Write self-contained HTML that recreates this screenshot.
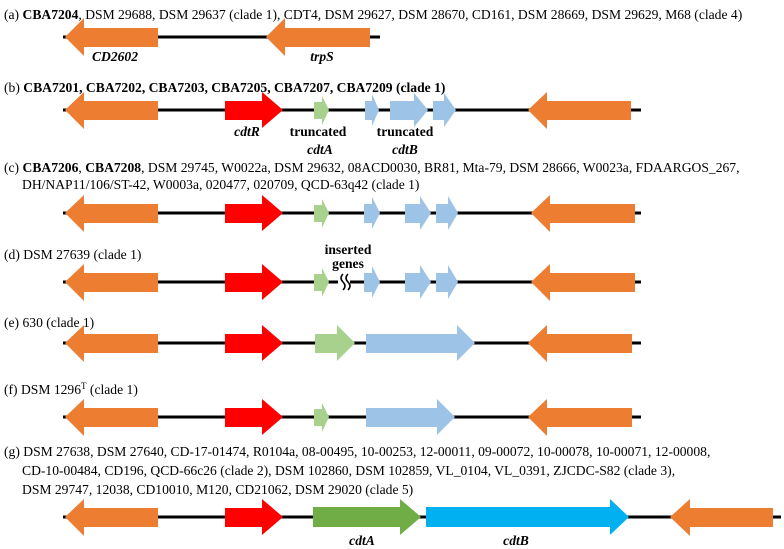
<!DOCTYPE html>
<html><head><meta charset="utf-8"><style>
html,body{margin:0;padding:0;background:#fff;}
svg{display:block;font-family:"Liberation Serif",serif;}
text{font-size:13.6px;fill:#000;}
.b{font-weight:bold;}
.i{font-weight:bold;font-style:italic;}
</style></head><body>
<svg width="784" height="549" viewBox="0 0 784 549">
<text x="4" y="19">(a) <tspan class="b">CBA7204</tspan>, DSM 29688, DSM 29637 (clade 1), CDT4, DSM 29627, DSM 28670, CD161, DSM 28669, DSM 29629, M68 (clade 4)</text>
<text x="4" y="92">(b) <tspan class="b">CBA7201, CBA7202, CBA7203, CBA7205, CBA7207, CBA7209 (clade 1)</tspan></text>
<text x="4" y="172">(c) <tspan class="b">CBA7206</tspan>, <tspan class="b">CBA7208</tspan>, DSM 29745, W0022a, DSM 29632, 08ACD0030, BR81, Mta-79, DSM 28666, W0023a, FDAARGOS_267,</text>
<text x="22" y="189">DH/NAP11/106/ST-42, W0003a, 020477, 020709, QCD-63q42 (clade 1)</text>
<text x="4" y="259">(d) DSM 27639 (clade 1)</text>
<text x="4" y="327">(e) 630 (clade 1)</text>
<text x="4" y="394">(f) DSM 1296<tspan font-size="9" dy="-5">T</tspan><tspan dy="5"> (clade 1)</tspan></text>
<text x="4" y="456">(g) DSM 27638, DSM 27640, CD-17-01474, R0104a, 08-00495, 10-00253, 12-00011, 09-00072, 10-00078, 10-00071, 12-00008,</text>
<text x="22" y="475">CD-10-00484, CD196, QCD-66c26 (clade 2), DSM 102860, DSM 102859, VL_0104, VL_0391, ZJCDC-S82 (clade 3),</text>
<text x="22" y="494">DSM 29747, 12038, CD10010, M120, CD21062, DSM 29020 (clade 5)</text>

<g>
<line x1="63" y1="37" x2="380" y2="37" stroke="#000" stroke-width="3"/>
<polygon points="65,37 84,18 84,28 158,28 158,47 84,47 84,56" fill="#ED7D31"/>
<polygon points="266,37 285,18 285,28 370,28 370,47 285,47 285,56" fill="#ED7D31"/>
<text class="i" x="115" y="61" text-anchor="middle">CD2602</text>
<text class="i" x="322" y="61" text-anchor="middle">trpS</text>
</g>

<g>
<line x1="63" y1="110" x2="641" y2="110" stroke="#000" stroke-width="3"/>
<polygon points="65,110 84,92 84,101 158,101 158,120 84,120 84,129" fill="#ED7D31"/>
<polygon points="225,101 262,101 262,92 283,110 262,128 262,120 225,120" fill="#FF0000"/>
<polygon points="314,102 322,102 322,96 329,110 322,125 322,119 314,119" fill="#A9D18E"/>
<polygon points="365,101 372,101 372,94 379,110 372,126 372,120 365,120" fill="#9DC3E6"/>
<polygon points="390,101 414,101 414,93 428,110 414,127 414,120 390,120" fill="#9DC3E6"/>
<polygon points="433,101 444,101 444,93 456,110 444,127 444,120 433,120" fill="#9DC3E6"/>
<polygon points="528,110 547,92 547,101 631,101 631,120 547,120 547,129" fill="#ED7D31"/>
<text class="i" x="247" y="136" text-anchor="middle">cdtR</text>
<text class="b" x="318" y="136" text-anchor="middle">truncated</text>
<text class="i" x="320" y="154" text-anchor="middle">cdtA</text>
<text class="b" x="405" y="136" text-anchor="middle">truncated</text>
<text class="i" x="405" y="154" text-anchor="middle">cdtB</text>
</g>

<g>
<line x1="63" y1="213" x2="641" y2="213" stroke="#000" stroke-width="3"/>
<polygon points="65,213 84,195 84,204 158,204 158,223 84,223 84,232" fill="#ED7D31"/>
<polygon points="225,204 262,204 262,195 283,213 262,231 262,223 225,223" fill="#FF0000"/>
<polygon points="314,205 322,205 322,199 329,213 322,228 322,222 314,222" fill="#A9D18E"/>
<polygon points="364,204 372,204 372,197 380,213 372,229 372,223 364,223" fill="#9DC3E6"/>
<polygon points="405,204 420,204 420,196 431,213 420,230 420,223 405,223" fill="#9DC3E6"/>
<polygon points="436,204 448,204 448,196 458,213 448,230 448,223 436,223" fill="#9DC3E6"/>
<polygon points="531,213 550,195 550,204 635,204 635,223 550,223 550,232" fill="#ED7D31"/>
</g>

<g>
<line x1="63" y1="282" x2="641" y2="282" stroke="#000" stroke-width="3"/>
<polygon points="65,282 84,264 84,273 158,273 158,292 84,292 84,301" fill="#ED7D31"/>
<polygon points="225,273 262,273 262,264 283,282 262,300 262,292 225,292" fill="#FF0000"/>
<polygon points="314,274 322,274 322,268 329,282 322,297 322,291 314,291" fill="#A9D18E"/>
<rect x="338" y="274" width="12" height="18" fill="#fff"/>
<path d="M343,274 q-4,4 0,8 q4,4 0,8 M348,274 q-4,4 0,8 q4,4 0,8" stroke="#000" stroke-width="1.5" fill="none"/>
<polygon points="364,273 372,273 372,266 380,282 372,298 372,292 364,292" fill="#9DC3E6"/>
<polygon points="405,273 420,273 420,265 431,282 420,299 420,292 405,292" fill="#9DC3E6"/>
<polygon points="436,273 448,273 448,265 458,282 448,299 448,292 436,292" fill="#9DC3E6"/>
<polygon points="531,282 550,264 550,273 635,273 635,292 550,292 550,301" fill="#ED7D31"/>
<text class="b" x="348" y="254" text-anchor="middle">inserted</text>
<text class="b" x="348" y="268" text-anchor="middle">genes</text>
</g>

<g>
<line x1="63" y1="343" x2="641" y2="343" stroke="#000" stroke-width="3"/>
<polygon points="65,343 84,325 84,334 158,334 158,353 84,353 84,362" fill="#ED7D31"/>
<polygon points="225,334 262,334 262,325 283,343 262,361 262,353 225,353" fill="#FF0000"/>
<polygon points="315,334 337,334 337,325 355,343 337,361 337,353 315,353" fill="#A9D18E"/>
<polygon points="366,334 457,334 457,325 475,343 457,361 457,353 366,353" fill="#9DC3E6"/>
<polygon points="528,343 547,325 547,334 632,334 632,353 547,353 547,362" fill="#ED7D31"/>
</g>

<g>
<line x1="63" y1="417" x2="641" y2="417" stroke="#000" stroke-width="3"/>
<polygon points="65,417 84,399 84,408 158,408 158,427 84,427 84,436" fill="#ED7D31"/>
<polygon points="225,408 262,408 262,399 283,417 262,435 262,427 225,427" fill="#FF0000"/>
<polygon points="314,409 322,409 322,403 329,417 322,432 322,426 314,426" fill="#A9D18E"/>
<polygon points="366,408 437,408 437,399 455,417 437,435 437,427 366,427" fill="#9DC3E6"/>
<polygon points="528,417 547,399 547,408 632,408 632,427 547,427 547,436" fill="#ED7D31"/>
</g>

<g>
<line x1="63" y1="517" x2="781" y2="517" stroke="#000" stroke-width="3"/>
<polygon points="65,517 84,499 84,508 158,508 158,527 84,527 84,536" fill="#ED7D31"/>
<polygon points="225,508 262,508 262,499 283,517 262,535 262,527 225,527" fill="#FF0000"/>
<polygon points="313,507 400,507 400,499 421,517 400,535 400,527 313,527" fill="#70AD47"/>
<polygon points="426,507 610,507 610,499 629,517 610,535 610,527 426,527" fill="#00B0F0"/>
<polygon points="670,517 690,499 690,508 773,508 773,527 690,527 690,536" fill="#ED7D31"/>
<text class="i" x="362" y="545" text-anchor="middle">cdtA</text>
<text class="i" x="516" y="545" text-anchor="middle">cdtB</text>
</g>
</svg>
</body></html>
